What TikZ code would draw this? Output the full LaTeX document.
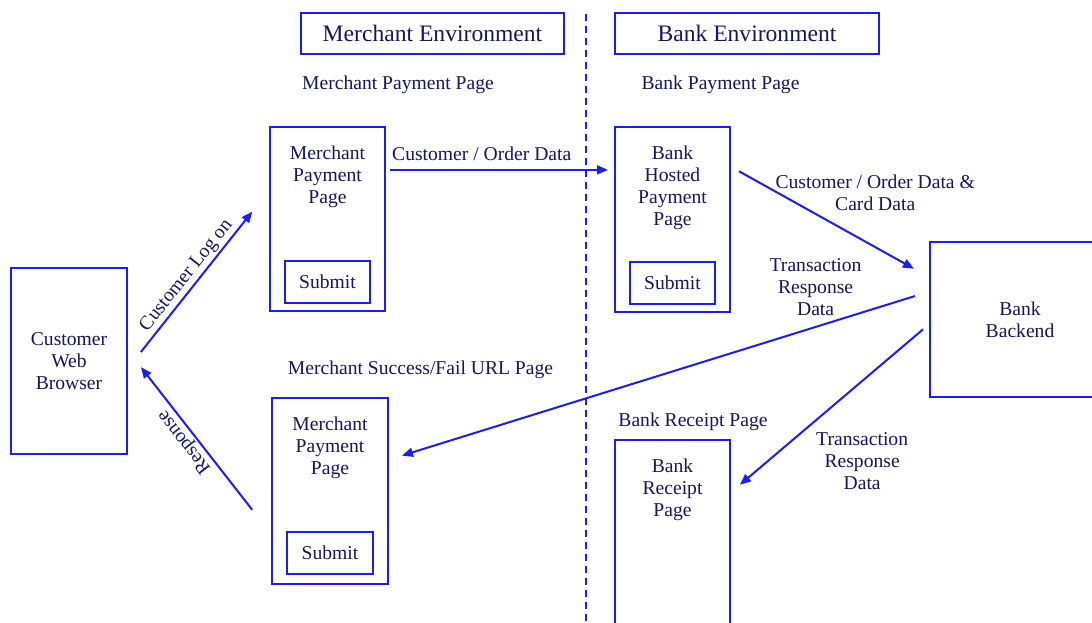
\documentclass[tikz,border=0pt]{standalone}
\usepackage{fontspec}
\setmainfont{Liberation Serif}
\usepackage{xcolor}
\usepackage{tikz}
\usetikzlibrary{arrows.meta}
\usetikzlibrary{positioning}

\definecolor{lineblue}{RGB}{28,28,245}
\definecolor{textnavy}{RGB}{22,22,92}

\begin{document}
\begin{tikzpicture}[x=1pt, y=-1pt, line width=2pt,
  every node/.style={text=textnavy, font=\fontsize{19.6}{22}\selectfont, inner sep=2pt},
  title/.style={draw=lineblue, minimum width=263, minimum height=41, font=\fontsize{23.6}{26}\selectfont},
  page/.style={draw=lineblue, minimum width=115},
  pagetext/.style={align=center},
  submit/.style={draw=lineblue, minimum width=85, minimum height=42},
  flow/.style={draw=lineblue, -{Triangle[length=11pt, width=9pt]}},
  divider/.style={draw=lineblue, dash pattern=on 7pt off 5pt}]
  \useasboundingbox (0,0) rectangle (1092,623);
  \clip (0,0) rectangle (1092,623);

  % the two environments
  \node[title] (menv) at (432.5,33.5) {Merchant Environment};
  \node[title, minimum width=264] (benv) at (747,33.5) {Bank Environment};
  \coordinate (divtop) at (586,14);
  \coordinate (divbot) at (586,623);
  \draw[divider] (divtop) -- (divbot);

  \node (mpplbl) at (398,85) {Merchant Payment Page};
  \node (bpplbl) at (720.5,85) {Bank Payment Page};
  \node (mreslbl) at (420.5,370) {Merchant Success/Fail URL Page};
  \node (brclbl) at (693,422) {Bank Receipt Page};

  % browser
  \node[page, minimum width=116, minimum height=186, align=center] (cwb) at (69,361) {Customer\\Web\\Browser};

  % merchant payment page
  \node[page, minimum height=184] (mpay) at (327.5,219) {};
  \node[pagetext, below=17pt of mpay.north] (mpaytext) {Merchant\\Payment\\Page};
  \node[submit, above=8pt of mpay.south] (mpaysub) {Submit};

  % bank hosted payment page
  \node[page, minimum height=185] (bhp) at (672.5,219.5) {};
  \node[pagetext, below=17pt of bhp.north] (bhptext) {Bank\\Hosted\\Payment\\Page};
  \node[submit, above=8pt of bhp.south] (bhpsub) {Submit};

  % merchant success/fail page
  \node[page, minimum width=116, minimum height=186] (mres) at (330,491) {};
  \node[pagetext, below=17pt of mres.north] (mrestext) {Merchant\\Payment\\Page};
  \node[submit, minimum width=86, above=10pt of mres.south] (mressub) {Submit};

  % bank side
  \node[page, minimum width=180, minimum height=155, align=center] (bbe) at (1020,319.5) {Bank\\Backend};
  \node[page, minimum height=210] (brc) at (672.5,545) {};
  \node[pagetext, below=17pt of brc.north] (brctext) {Bank\\Receipt\\Page};

  % flows
  \draw[flow, shorten <=20.7pt, shorten >=27pt] (cwb.-7) -- node[pos=0.48, sloped, above] {Customer Log on} (mpay.154);
  \draw[flow, shorten <=30.6pt, shorten >=21pt] (mres.216) -- node[pos=0.54, sloped, allow upside down, above] {Response} (cwb.10);
  \draw[flow, shorten <=4pt, shorten >=6pt] (mpay.40) -- node[pos=0.42, above=6pt] {Customer / Order Data} (mpay.40 -| bhp.west);
  \draw[flow, shorten <=9.2pt, shorten >=17.2pt] (bhp.42.7) -- node[pos=0.21, anchor=west, yshift=-3pt, align=center] {Customer / Order Data \&\\Card Data} (bbe.155.5);
  \draw[flow, shorten <=14.7pt, shorten >=13.6pt] (bbe.163.4) -- node[pos=0.21, above=8pt, align=center] {Transaction\\Response\\Data} (mres.28.1);
  \draw[flow, shorten <=7.8pt, shorten >=11.7pt] (bbe.183) -- node[pos=0.615, anchor=north west, xshift=6pt, yshift=-2pt, align=center] {Transaction\\Response\\Data} (brc.42.9);
\end{tikzpicture}
\end{document}
